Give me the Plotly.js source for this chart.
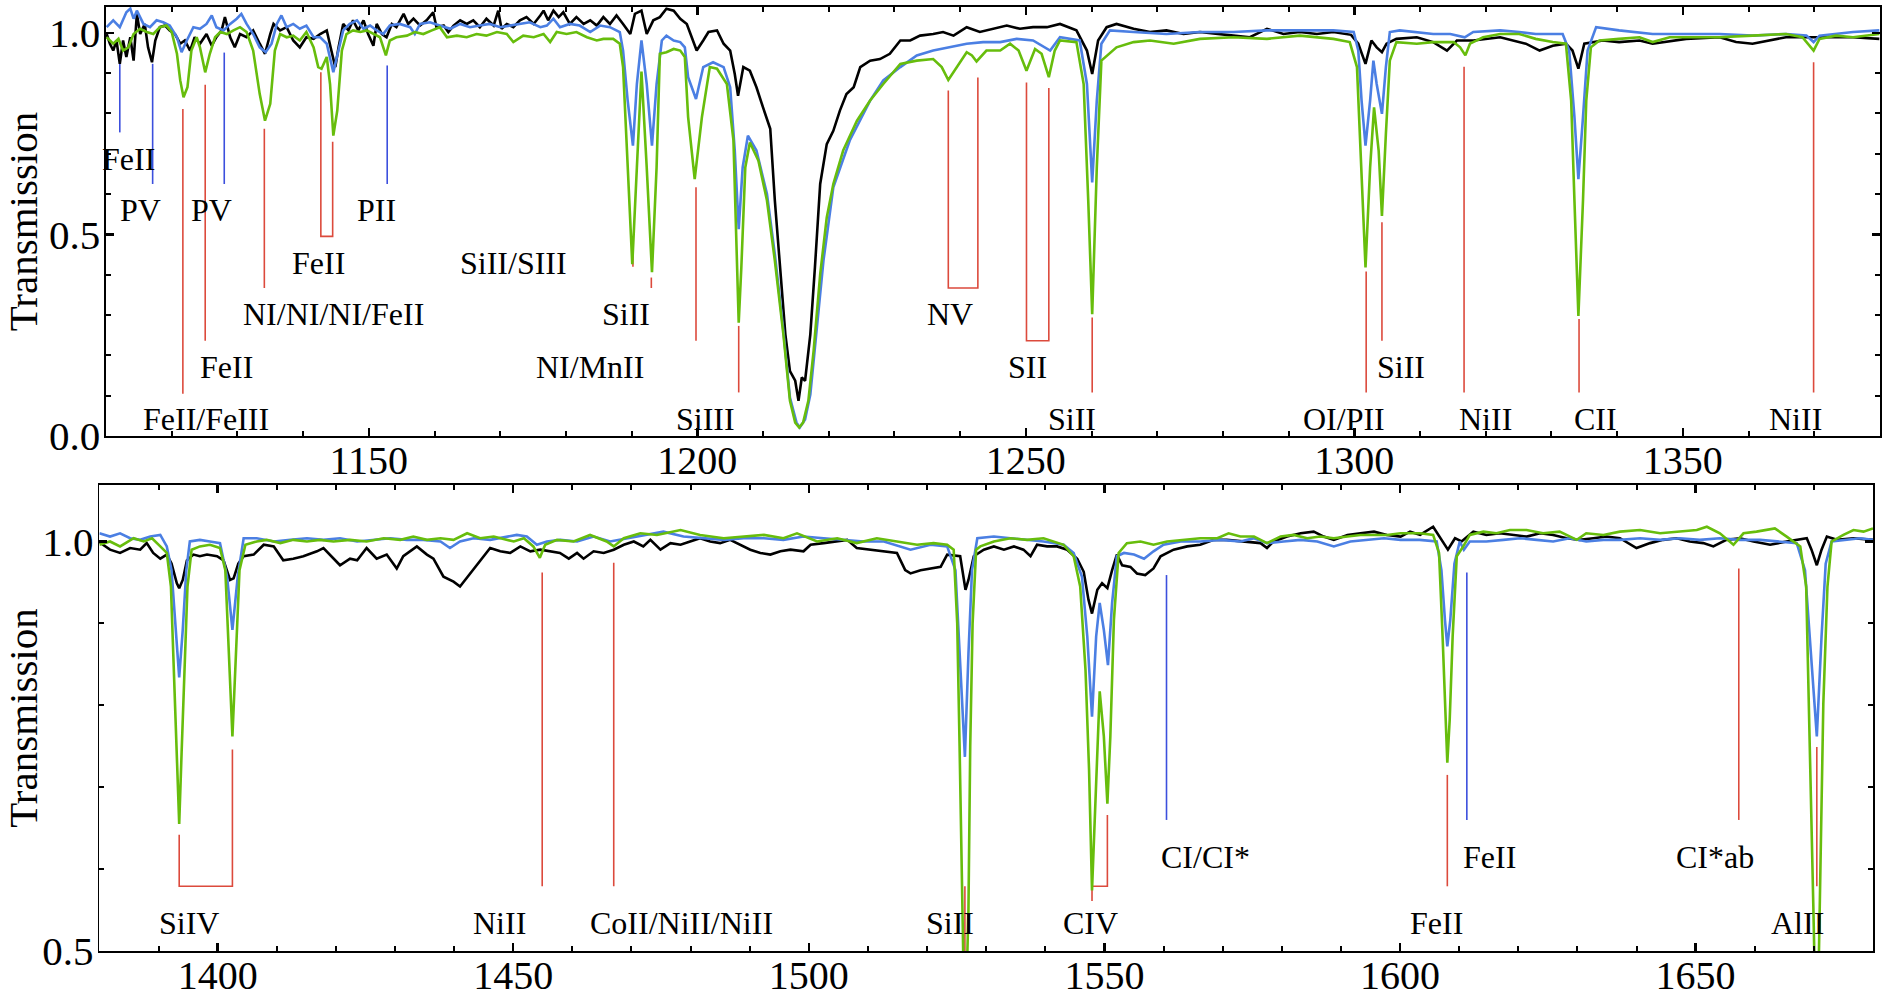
<!DOCTYPE html>
<html><head><meta charset="utf-8">
<script src="https://cdn.plot.ly/plotly-3.0.1.min.js"></script>
<style>html,body{margin:0;padding:0;background:#fff}#chart{width:1886px;height:1002px}</style>
</head><body><div id="chart"></div>
<script>
// ---------- TOP PANEL DATA (wavelength, transmission) ----------
const topBlackX = [1110.1,1110.6,1111.1,1111.6,1112.1,1112.6,1113.1,1113.7,1114.2,1114.7,1115.2,1115.9,1116.4,1117.0,1117.5,1118.2,1119.0,1119.7,1120.5,1121.3,1122.0,1122.8,1123.5,1124.3,1125.3,1126.1,1126.8,1127.6,1128.1,1128.9,1129.6,1130.4,1131.4,1132.4,1133.4,1134.2,1135.0,1135.5,1136.5,1137.5,1138.5,1139.5,1140.5,1141.6,1142.6,1143.6,1144.3,1144.9,1145.4,1146.1,1146.9,1147.6,1148.4,1149.2,1149.9,1150.7,1151.2,1152.0,1152.7,1153.5,1154.2,
1155.3,1156.0,1156.8,1157.8,1158.8,1159.8,1160.3,1161.4,1162.1,1162.9,1163.9,1164.9,1165.9,1166.9,1167.9,1169.0,1169.7,1170.2,1171.0,1172.0,1173.0,1174.0,1175.1,1176.1,1176.6,1177.3,1178.1,1178.9,1179.6,1180.6,1181.6,1182.7,1183.7,1184.7,1185.7,1186.7,1187.7,1188.7,1189.8,1190.5,1191.5,1192.3,1193.3,1194.3,1195.3,1196.4,1197.4,1198.4,
1199.9,1200.9,1201.7,1203.0,1204.0,1205.0,1205.7,1206.2,1207.0,1208.0,1209.0,1210.0,1211.1,1211.8,1212.6,1213.4,1214.1,1214.9,1215.4,1215.9,1216.4,1217.2,1217.9,1218.7,1219.7,1220.7,1221.7,1222.7,1223.8,1224.8,1226.3,1227.8,1229.3,1230.9,
1232.4,1233.9,1235.9,1237.4,1239.0,1241.0,1243.0,1245.1,1247.1,1249.1,1251.1,1253.2,1255.2,1257.7,1259.3,1260.1,1261.0,1262.3,1263.8,1266.4,1268.9,1271.4,1274.0,1276.5,1279.0,1281.6,1284.1,1286.7,1289.2,1291.7,1294.3,1296.8,
1299.5,1300.6,1301.7,1302.6,1303.4,1304.2,1304.9,1306.4,1309.5,1312.0,1314.1,1315.6,1318.1,1320.1,1322.2,
1326.1,1328.2,1330.2,1332.2,1333.2,1334.1,1335.0,1337.8,1340.3,1343.4,1345.4,1350.5,1355.6,1358.1,1360.6,1365.7,1370.8,1375.9,1379.9];
const topBlackY = [0.997,0.973,0.956,0.981,0.923,0.981,0.940,0.989,0.931,1.047,0.997,1.022,0.964,0.927,0.981,1.014,1.018,1.006,0.997,0.973,0.981,0.956,0.989,0.973,0.997,0.968,0.989,1.006,1.039,0.989,0.964,0.997,0.989,1.006,0.973,0.948,0.997,1.022,1.006,1.014,0.981,0.964,0.989,0.985,0.997,1.006,0.956,0.915,0.964,1.022,1.006,1.031,1.006,1.031,0.997,0.968,1.022,0.997,0.989,1.022,1.014,
1.047,1.022,1.035,1.018,1.031,1.051,1.014,1.018,1.002,1.018,1.031,1.022,1.031,1.014,1.035,1.018,1.055,1.010,1.022,1.014,1.031,1.039,1.022,1.043,1.055,1.031,1.055,1.039,1.051,1.022,1.039,1.022,1.031,1.018,1.039,1.022,1.043,1.022,0.997,1.047,1.055,0.997,1.031,1.039,1.060,1.055,1.035,1.022,
0.956,0.981,1.002,1.006,0.973,0.956,0.898,0.844,0.915,0.906,0.865,0.815,0.762,0.584,0.418,0.252,0.161,0.137,0.087,0.145,0.137,0.252,0.418,0.625,0.724,0.757,0.807,0.848,0.865,0.915,0.931,0.935,0.948,0.981,
0.981,0.993,0.997,1.002,0.993,1.014,1.002,1.010,1.018,1.010,1.014,1.014,1.022,1.006,0.956,0.898,0.981,1.014,1.022,1.010,1.002,1.006,0.997,1.002,0.997,0.993,0.989,1.010,0.997,1.002,0.997,1.002,
0.995,0.973,0.923,0.981,0.964,0.952,0.973,0.985,0.989,0.977,0.956,0.981,0.981,0.985,0.989,
0.973,0.956,0.968,0.973,0.956,0.911,0.973,0.981,0.977,0.981,0.973,0.985,0.989,0.977,0.973,0.989,0.989,0.989,0.985];

const topBlueX = [1110.1,1111.1,1112.1,1113.1,1113.7,1114.2,1114.7,1115.7,1116.7,1117.7,1118.7,1119.7,1120.8,1121.5,1122.3,1123.3,1124.3,1125.3,1126.1,1126.8,1127.9,1128.9,1129.9,1130.6,1131.4,1132.4,1133.4,1134.3,1135.2,1136.0,1136.7,1137.5,1138.5,1139.5,1140.5,1141.6,1142.6,1143.6,1144.6,1145.4,1146.1,1147.1,1148.2,1149.2,1150.2,1151.2,1152.2,1153.2,1154.7,
1156.3,1157.0,1157.8,1159.3,1160.8,1162.4,1163.9,1165.4,1166.9,1168.4,1170.0,1171.5,1173.0,1174.5,1176.1,1177.1,1178.1,1179.1,1180.6,1182.1,1183.7,1185.2,1186.7,1188.2,1188.7,1189.4,1190.2,1190.8,1191.5,1192.3,1193.1,1193.8,1194.6,1195.3,1196.4,1197.4,1198.1,
1198.6,1199.8,1200.9,1202.4,1204.0,1205.0,1205.7,1206.3,1206.9,1207.7,1209.0,1210.6,1211.8,1213.1,1214.1,1215.1,1215.6,1216.4,1217.2,1217.9,1219.2,1220.7,1223.2,1226.3,1228.3,1230.9,
1233.4,1235.9,1238.5,1241.0,1243.5,1246.1,1248.6,1251.1,1253.7,1255.2,1258.2,1259.3,1260.1,1260.8,1261.5,1262.8,1266.4,1271.4,1276.5,1281.6,1286.7,1291.7,1296.8,
1299.9,1300.6,1301.1,1301.7,1302.4,1302.9,1303.4,1304.2,1304.8,1305.4,1306.9,1309.5,1312.0,1314.6,1316.8,1318.1,1322.2,
1325.1,1327.6,1331.7,1332.7,1333.5,1334.1,1334.8,1335.5,1336.8,1340.3,1345.4,1350.5,1355.6,1360.6,1365.7,1368.8,1369.9,1370.8,1375.9,1379.9];
const topBlueY = [1.014,1.031,1.014,1.051,1.060,1.035,1.055,1.022,1.014,1.031,1.026,1.018,0.989,0.952,0.981,1.014,1.010,1.022,1.043,1.014,1.006,1.022,1.035,1.047,1.022,0.997,0.964,0.952,0.973,1.022,1.043,1.014,1.022,1.010,1.018,0.989,0.989,0.973,0.902,0.956,1.006,1.022,1.031,1.010,1.018,1.006,0.997,1.018,1.022,
1.014,0.997,1.022,1.026,1.018,1.010,1.022,1.014,1.018,1.022,1.014,1.018,1.022,1.026,1.014,1.018,1.035,1.014,1.022,1.018,1.002,1.018,1.014,1.002,0.956,0.832,0.720,0.873,0.981,0.873,0.720,0.873,0.981,0.993,0.981,0.977,0.964,
0.890,0.836,0.915,0.927,0.915,0.865,0.708,0.513,0.666,0.745,0.708,0.600,0.451,0.261,0.095,0.033,0.021,0.041,0.103,0.219,0.435,0.617,0.733,0.832,0.882,0.915,
0.944,0.956,0.964,0.973,0.977,0.977,0.985,0.981,0.956,0.989,0.981,0.873,0.629,0.832,0.973,1.006,1.002,0.997,1.002,1.002,1.006,1.006,1.006,
1.002,0.956,0.832,0.720,0.832,0.931,0.873,0.799,0.915,1.002,1.006,1.002,0.997,0.997,0.989,1.002,1.006,
1.002,0.997,0.997,0.956,0.791,0.637,0.791,0.956,1.014,1.006,0.997,0.997,0.997,0.993,0.997,0.993,0.977,0.993,1.002,1.006];

const topGreenX = [1110.1,1111.1,1111.9,1112.6,1113.4,1114.2,1115.2,1116.2,1117.2,1118.2,1119.2,1120.0,1120.8,1121.3,1121.8,1122.4,1123.0,1123.8,1124.3,1125.1,1125.8,1126.6,1127.4,1128.4,1129.4,1130.4,1131.4,1132.4,1133.4,1134.2,1135.0,1135.7,1136.5,1137.5,1138.5,1139.5,1140.5,1141.6,1142.3,1142.8,1143.6,1144.1,1144.6,1145.2,1145.9,1146.6,1147.6,1148.7,1149.7,1150.7,1151.7,1152.6,1153.2,1154.2,
1155.8,1157.0,1158.3,1159.6,1160.8,1161.9,1163.4,1164.9,1166.4,1167.9,1169.5,1171.0,1172.0,1173.5,1175.1,1176.6,1177.6,1178.6,1180.1,1181.6,1183.2,1184.7,1185.7,1187.2,1188.2,1188.7,1189.4,1190.1,1190.8,1191.5,1192.3,1193.1,1193.8,1194.3,1195.3,1196.4,1197.4,1198.1,
1198.6,1199.6,1200.7,1201.9,1203.0,1204.5,1205.5,1206.0,1206.3,1206.7,1207.3,1208.0,1209.3,1210.6,1211.8,1213.1,1214.1,1214.9,1215.5,1216.1,1216.9,1217.7,1218.7,1219.7,1220.7,1222.2,1224.3,1226.3,1228.3,
1230.9,1233.4,1235.9,1237.2,1238.2,1239.5,1241.0,1241.8,1242.5,1244.0,1246.1,1247.6,1248.9,1250.1,1251.4,1252.4,1253.5,1254.4,1255.2,1257.7,1258.8,1259.5,1260.1,1260.8,1261.5,1263.8,1266.4,1268.9,1272.5,1276.5,1281.6,1286.7,1291.7,1296.8,
1299.3,1300.4,1301.1,1301.7,1302.4,1303.0,1303.7,1304.2,1304.8,1305.4,1306.4,1309.5,1312.0,1315.1,1316.1,1316.9,1317.6,1319.6,1322.2,
1325.1,1327.6,1330.2,1332.2,1333.0,1333.5,1334.1,1334.8,1335.3,1336.0,1337.3,1340.3,1343.4,1345.4,1348.0,1350.5,1355.6,1360.6,1365.7,1368.2,1369.9,1370.8,1373.3,1375.9,1379.9];
const topGreenY = [0.989,0.973,0.985,0.956,0.964,0.997,1.010,1.002,0.997,1.014,1.018,1.002,0.948,0.882,0.840,0.865,0.956,0.989,0.964,0.902,0.948,0.989,1.002,0.997,1.006,1.014,1.002,0.956,0.848,0.782,0.824,0.956,0.997,0.989,0.993,0.981,1.002,0.964,0.915,0.911,0.940,0.873,0.745,0.807,0.956,0.997,1.006,1.002,1.006,0.997,0.989,0.944,0.981,0.989,
0.993,1.002,0.997,1.006,1.014,0.989,0.993,0.989,0.997,0.993,1.002,0.997,0.977,0.993,0.989,0.997,0.977,1.002,0.997,1.002,0.989,0.981,0.985,0.985,0.973,0.915,0.666,0.426,0.666,0.904,0.666,0.406,0.666,0.948,0.952,0.960,0.956,0.940,
0.791,0.637,0.791,0.915,0.911,0.873,0.733,0.418,0.281,0.418,0.666,0.728,0.683,0.584,0.435,0.252,0.087,0.033,0.021,0.033,0.087,0.211,0.401,0.542,0.625,0.708,0.782,0.832,0.873,
0.923,0.931,0.935,0.915,0.883,0.915,0.952,0.944,0.929,0.956,0.956,0.973,0.956,0.906,0.960,0.948,0.890,0.956,0.981,0.977,0.873,0.584,0.302,0.666,0.931,0.964,0.977,0.981,0.973,0.985,0.989,0.985,0.993,0.985,
0.977,0.915,0.666,0.418,0.666,0.815,0.708,0.546,0.749,0.931,0.977,0.973,0.977,0.977,0.964,0.944,0.973,0.989,0.997,
0.997,0.985,0.977,0.973,0.832,0.584,0.298,0.584,0.832,0.964,0.981,0.985,0.989,0.977,0.989,0.989,0.989,0.993,0.997,0.989,0.956,0.985,0.993,0.989,0.997];

// ---------- BOTTOM PANEL DATA ----------
const botBlackX = [1380.0,1381.8,1383.5,1385.2,1386.9,1388.0,1389.1,1390.3,1391.4,1392.2,1393.1,1393.5,1394.1,1394.8,1395.9,1397.0,1398.2,1399.9,1401.0,1402.1,1402.7,1403.5,1404.4,1406.1,1407.8,1409.5,1411.1,1412.8,1414.5,1416.8,1417.9,1419.6,1420.7,1422.4,1423.6,1425.2,1426.9,1428.6,1430.3,1431.4,1433.7,1435.4,1436.5,1438.2,1439.9,1441.0,1442.7,1444.4,
1446.1,1447.8,1449.5,1451.2,1452.9,1454.6,1456.3,1457.9,1459.4,1460.8,1461.9,1463.6,1465.3,1467.0,1468.7,1470.4,1472.0,1473.2,1474.9,1476.6,1478.3,1480.0,1481.6,1483.3,1485.0,1486.7,1488.4,1490.1,1491.8,1493.5,1495.2,1496.9,1499.1,1500.3,1502.5,1504.8,1506.5,1508.1,1510.4,1512.7,1514.9,1516.3,1517.2,1518.9,1520.6,1522.3,1523.4,
1525.6,1526.5,1527.0,1527.9,1529.6,1531.3,1533.0,1534.7,1536.3,1537.5,1538.6,1540.3,1542.0,1543.7,1545.4,1546.5,1547.3,1547.9,1548.8,1549.6,1550.5,1551.3,1552.1,1553.0,1554.4,1555.5,1556.9,1558.3,1559.5,1561.7,1564.0,1566.2,1568.5,1570.7,1573.6,1576.4,
1577.5,1578.6,1580.9,1583.2,1585.4,1587.1,1588.8,1591.1,1593.3,1595.6,1597.8,1600.1,1601.7,1603.4,1605.6,1607.0,1608.1,1609.3,1610.4,1612.4,1614.6,1616.9,1619.1,1621.4,1623.7,1625.9,1628.2,1630.4,1632.7,1634.9,1637.2,1640.0,1642.3,1644.5,1646.8,1649.0,1651.3,1653.0,1655.2,1657.5,1659.8,1662.6,1665.4,1667.6,1668.8,1669.6,1670.5,1671.3,1672.2,1673.9,1676.7,1680.0];
const botBlackY = [0.999,0.990,0.986,0.992,0.990,0.998,0.986,0.979,0.984,0.973,0.949,0.943,0.953,0.977,0.984,0.982,0.984,0.982,0.977,0.953,0.955,0.973,0.982,0.984,0.996,0.994,0.977,0.979,0.982,0.988,0.992,0.979,0.971,0.979,0.977,0.992,0.979,0.984,0.967,0.982,0.994,0.984,0.979,0.957,0.951,0.945,0.961,0.977,
0.992,0.988,0.986,0.994,0.988,0.990,0.988,0.986,0.979,0.986,0.979,0.988,0.986,0.990,0.996,1.000,0.994,1.002,0.990,0.998,0.996,1.000,1.004,1.000,0.998,1.002,0.996,0.990,0.986,0.984,0.988,0.990,0.988,0.996,0.998,1.000,1.002,0.992,0.990,0.988,0.986,0.965,0.961,0.965,0.967,0.969,0.984,
0.982,0.941,0.953,0.982,0.990,0.994,0.990,0.994,0.990,0.982,0.996,0.994,0.994,0.990,0.979,0.963,0.929,0.912,0.941,0.949,0.943,0.965,0.984,0.971,0.969,0.961,0.959,0.967,0.982,0.990,0.994,0.996,1.002,1.002,1.000,0.998,
0.992,1.000,1.006,1.010,1.012,1.006,1.002,1.008,1.010,1.012,1.008,1.006,1.012,1.008,1.018,1.002,0.990,1.004,1.000,1.012,1.008,1.010,1.008,1.006,1.010,1.008,1.004,1.002,1.004,1.006,1.004,0.992,0.998,1.002,1.004,1.000,0.998,0.994,1.002,1.004,1.000,0.996,1.000,1.002,1.004,0.990,0.971,0.990,1.006,1.002,1.004,1.002];

const botBlueX = [1380.0,1381.8,1383.5,1385.2,1386.9,1388.6,1390.3,1391.4,1392.2,1392.9,1393.5,1394.1,1394.7,1395.3,1397.0,1398.7,1400.4,1401.6,1402.5,1403.4,1404.4,1406.6,1409.5,1412.3,1415.1,1417.9,1420.7,1423.6,1426.4,1429.2,1432.0,1434.8,1437.7,1439.3,1441.0,1443.3,1446.1,
1447.8,1450.6,1452.3,1454.0,1455.7,1458.0,1460.8,1463.6,1466.4,1469.2,1472.0,1475.4,1478.8,1482.2,1485.6,1489.0,1492.4,1495.7,1499.1,1502.5,1505.9,1509.3,1512.7,1517.2,1520.6,1523.4,
1524.8,1525.5,1526.4,1527.0,1527.6,1528.5,1531.3,1534.1,1536.9,1539.7,1543.1,1544.8,1546.2,1547.1,1547.9,1548.6,1549.2,1549.9,1550.6,1551.3,1552.1,1553.3,1555.0,1556.7,1558.3,1560.0,1562.9,1566.2,1569.6,1573.0,1575.3,1577.5,1580.3,1583.2,1586.0,1588.8,1591.6,1594.4,1597.3,1600.1,
1603.3,1606.2,1607.0,1607.6,1608.0,1608.5,1609.2,1610.1,1610.8,1611.8,1614.6,1617.5,1620.3,1623.1,1625.9,1628.7,1631.5,1634.4,1637.2,1640.6,1644.0,1647.3,1650.7,1654.1,1657.5,1660.9,1664.3,1667.1,1668.5,1669.3,1670.5,1671.3,1672.0,1673.0,1675.5,1677.8,1680.0];
const botBlueY = [1.010,1.006,1.010,1.004,1.002,1.006,1.008,0.994,0.965,0.892,0.834,0.892,0.965,1.000,1.002,1.000,0.998,0.957,0.892,0.957,1.004,1.004,1.000,1.002,1.004,1.002,1.004,1.000,1.002,1.004,1.002,1.002,1.000,0.992,1.000,1.004,1.002,
1.004,1.008,1.006,0.996,1.000,1.002,1.000,1.006,1.000,1.004,1.008,1.012,1.006,1.004,1.002,1.004,1.004,1.002,1.006,1.004,1.002,1.000,1.000,0.990,0.996,0.994,
0.965,0.863,0.737,0.863,0.965,1.004,1.006,1.004,1.002,1.000,0.996,0.986,0.957,0.884,0.786,0.884,0.925,0.892,0.849,0.925,0.982,0.986,0.984,0.979,0.988,0.996,1.000,1.000,1.002,1.000,1.004,0.998,1.000,1.002,1.000,0.994,1.000,1.002,1.004,1.002,
1.002,1.000,0.965,0.904,0.872,0.904,0.973,1.000,0.990,1.000,1.000,1.002,1.004,1.002,1.000,1.004,1.000,1.002,1.002,1.004,1.002,1.004,1.002,1.004,1.002,1.002,1.000,0.998,0.965,0.884,0.762,0.884,0.973,1.000,1.002,1.004,1.002];

const botGreenX = [1380.0,1381.8,1383.5,1385.8,1387.5,1388.9,1390.3,1391.4,1392.1,1392.6,1393.1,1393.5,1393.9,1394.4,1394.9,1395.6,1397.0,1398.7,1400.4,1401.3,1401.9,1402.5,1403.1,1403.7,1404.7,1406.6,1408.3,1410.6,1412.8,1415.1,1417.3,1419.6,1422.4,1425.2,1428.1,1430.9,1433.1,1435.4,1437.7,1439.9,1442.2,1444.4,1446.7,
1447.8,1450.1,1451.8,1453.4,1454.5,1455.4,1457.4,1460.2,1463.0,1465.8,1467.0,1468.7,1471.5,1474.3,1478.3,1481.6,1485.6,1489.0,1492.4,1495.7,1498.0,1501.4,1504.8,1508.1,1511.5,1514.9,1518.3,1521.1,1523.4,
1524.5,1525.1,1525.5,1525.8,1526.4,1527.0,1527.3,1527.7,1528.3,1529.0,1531.3,1534.1,1536.9,1539.7,1543.1,1544.8,1545.9,1546.8,1547.4,1547.9,1548.5,1549.2,1549.9,1550.5,1551.0,1551.6,1552.4,1553.8,1556.1,1558.3,1560.6,1563.4,1566.2,1569.1,1571.0,1573.0,1575.3,1577.5,1579.8,1582.0,1584.3,1586.5,1588.8,1591.1,1593.3,1595.6,1597.8,1600.1,
1601.1,1603.4,1605.6,1606.6,1607.2,1607.7,1608.0,1608.4,1608.9,1609.6,1610.7,1611.8,1614.1,1616.3,1618.6,1621.4,1624.2,1627.0,1629.9,1631.5,1634.4,1637.2,1640.6,1644.0,1647.3,1650.2,1651.9,1654.1,1656.4,1658.1,1660.3,1663.4,1665.4,1667.7,1668.7,1669.3,1669.9,1670.5,1671.0,1671.6,1672.3,1673.0,1675.0,1676.7,1678.4,1680.0];
const botGreenY = [0.996,1.000,0.994,1.004,1.000,1.004,0.994,0.986,0.945,0.843,0.741,0.655,0.741,0.843,0.945,0.990,0.994,0.996,0.992,0.965,0.863,0.762,0.863,0.965,0.996,1.000,1.002,0.998,1.002,1.000,1.002,1.000,1.002,1.000,1.004,1.002,1.006,1.002,1.004,1.002,1.010,1.004,1.006,
1.004,1.000,1.004,0.994,0.980,0.996,1.002,1.000,1.008,1.000,0.994,1.004,1.010,1.008,1.014,1.008,1.004,1.006,1.008,1.004,1.010,1.000,1.004,0.998,1.004,1.000,0.996,0.998,0.996,
0.990,0.900,0.750,0.550,0.380,0.550,0.750,0.900,0.990,0.994,1.000,1.004,1.002,1.004,0.996,0.982,0.945,0.843,0.721,0.574,0.680,0.817,0.762,0.680,0.762,0.904,0.986,0.998,1.000,0.996,1.000,1.002,1.004,1.004,1.010,1.006,1.006,0.998,1.006,1.008,1.004,1.006,1.004,1.006,1.008,1.008,1.008,1.010,
1.010,1.010,1.008,0.986,0.884,0.782,0.730,0.782,0.884,0.982,0.994,1.008,1.012,1.010,1.014,1.014,1.010,1.012,1.002,1.010,1.008,1.012,1.014,1.010,1.012,1.014,1.018,1.010,0.996,1.010,1.012,1.016,1.006,0.994,0.945,0.762,0.558,0.350,0.558,0.802,0.945,1.000,1.008,1.014,1.012,1.016];

// ---------- LINE IDENTIFICATION MARKERS ----------
// single ticks: wavelength, top y, bottom y, colour key (r = red, b = blue)
const topTickX   = [1121.7,1125.1,1134.1,1190.2,1193.0,1199.8,1206.3,1260.1,1301.8,1304.2,1316.7,1334.2,1369.9,1112.1,1117.1,1128.0,1152.8];
const topTickTop = [0.811,0.871,0.762,0.490,0.393,0.617,0.273,0.294,0.408,0.530,0.916,0.290,0.927,0.935,0.923,0.951,0.919];
const topTickBot = [0.105,0.236,0.367,0.420,0.367,0.236,0.108,0.108,0.108,0.236,0.108,0.108,0.108,0.753,0.625,0.625,0.625];
const topTickCol = ['r','r','r','r','r','r','r','r','r','r','r','r','r','b','b','b','b'];
// doublet brackets: left x, right x, left top y, right top y, base y
const topBrLeft  = [1142.7,1238.2,1250.1];
const topBrRight = [1144.5,1242.7,1253.5];
const topBrLTop  = [0.902,0.857,0.877];
const topBrRTop  = [0.730,0.889,0.863];
const topBrBase  = [0.495,0.367,0.236];

const botTickX   = [1454.9,1467.0,1526.4,1608.0,1657.3,1670.5,1560.5,1611.3];
const botTickTop = [0.962,0.974,0.579,0.715,0.967,0.749,0.959,0.962];
const botTickBot = [0.579,0.579,0.500,0.579,0.660,0.579,0.660,0.660];
const botTickCol = ['r','r','r','r','r','r','b','b'];
const botBrLeft  = [1393.5,1547.9];
const botBrRight = [1402.5,1550.5];
const botBrLTop  = [0.642,0.561];
const botBrRTop  = [0.746,0.666];
const botBrBase  = [0.579,0.579];

// ---------- LABELS ----------
const topLabText = ['FeII','PV','PV','PII','FeII','NI/NI/NI/FeII','FeII','FeII/FeIII','SiII/SIII','SiII','NI/MnII','SiIII','NV','SII','SiII','OI/PII','SiII','NiII','CII','NiII'];
const topLabX    = [1113.5,1115.2,1126.1,1151.2,1142.4,1144.7,1128.4,1125.2,1172.0,1189.2,1183.7,1201.2,1238.5,1250.3,1257.1,1298.5,1307.1,1320.0,1336.7,1367.2];
const topLabY    = [0.688,0.561,0.561,0.561,0.430,0.302,0.170,0.042,0.430,0.302,0.170,0.042,0.302,0.170,0.042,0.042,0.170,0.042,0.042,0.042];

const botLabText = ['SiIV','NiII','CoII/NiII/NiII','SiII','CIV','CI/CI*','FeII','FeII','CI*ab','AlII'];
const botLabX    = [1395.2,1447.7,1478.5,1523.9,1547.7,1567.1,1615.1,1606.1,1653.3,1667.3];
const botLabY    = [0.534,0.534,0.534,0.534,0.534,0.615,0.615,0.534,0.615,0.534];

// ---------- BUILD ----------
const FONT = 'Liberation Serif, Times New Roman, serif';
const COL = {black:'#000000', blue:'#4b7fe3', green:'#67bd0c', r:'#dc4a3c', b:'#3c4fdd'};

function tickTraces(xs, tops, bots, cols, xa, ya) {
  const out = [];
  ['r','b'].forEach(k => {
    const x = [], y = [];
    xs.forEach((v, i) => { if (cols[i] === k) { x.push(v, v, null); y.push(tops[i], bots[i], null); } });
    out.push({x, y, mode:'lines', line:{color:COL[k], width:1.6}, xaxis:xa, yaxis:ya, hoverinfo:'skip', showlegend:false});
  });
  return out;
}
function bracketTrace(L, R, LT, RT, B, xa, ya) {
  const x = [], y = [];
  L.forEach((v, i) => { x.push(L[i], L[i], R[i], R[i], null); y.push(LT[i], B[i], B[i], RT[i], null); });
  return {x, y, mode:'lines', line:{color:COL.r, width:1.6}, xaxis:xa, yaxis:ya, hoverinfo:'skip', showlegend:false};
}
function spec(x, y, c, xa, ya) {
  return {x, y, mode:'lines', line:{color:c, width:2.6}, xaxis:xa, yaxis:ya, hoverinfo:'skip', showlegend:false};
}

const traces = [
  ...tickTraces(topTickX, topTickTop, topTickBot, topTickCol, 'x', 'y'),
  bracketTrace(topBrLeft, topBrRight, topBrLTop, topBrRTop, topBrBase, 'x', 'y'),
  ...tickTraces(botTickX, botTickTop, botTickBot, botTickCol, 'x2', 'y2'),
  bracketTrace(botBrLeft, botBrRight, botBrLTop, botBrRTop, botBrBase, 'x2', 'y2'),
  spec(topBlackX, topBlackY, COL.black, 'x', 'y'),
  spec(topBlueX, topBlueY, COL.blue, 'x', 'y'),
  spec(topGreenX, topGreenY, COL.green, 'x', 'y'),
  spec(botBlackX, botBlackY, COL.black, 'x2', 'y2'),
  spec(botBlueX, botBlueY, COL.blue, 'x2', 'y2'),
  spec(botGreenX, botGreenY, COL.green, 'x2', 'y2')
];

const annotations = [];
topLabText.forEach((t, i) => annotations.push({x:topLabX[i], y:topLabY[i], xref:'x', yref:'y', text:t, showarrow:false, xanchor:'center', yanchor:'middle', font:{family:FONT, size:32, color:'#000'}}));
botLabText.forEach((t, i) => annotations.push({x:botLabX[i], y:botLabY[i], xref:'x2', yref:'y2', text:t, showarrow:false, xanchor:'center', yanchor:'middle', font:{family:FONT, size:32, color:'#000'}}));

function xax(domain, range, anchor) {
  return {domain, range, anchor, tick0:1100, dtick:50, ticks:'inside', ticklen:8, tickwidth:2.5, tickcolor:'#000',
    mirror:'ticks', showline:true, linecolor:'#000', linewidth:1.6, showgrid:false, zeroline:false,
    ticklabelstandoff:-12,
    tickfont:{family:FONT, size:40, color:'#000'},
    minor:{dtick:10, tick0:1100, ticks:'inside', ticklen:5, tickwidth:2, tickcolor:'#000', showgrid:false}};
}
function yax(domain, range, anchor) {
  return {domain, range, anchor, tick0:0, dtick:0.5, tickformat:'.1f', ticks:'inside', ticklen:8, tickwidth:2.5, tickcolor:'#000',
    mirror:'ticks', showline:true, linecolor:'#000', linewidth:1.6, showgrid:false, zeroline:false,
    ticklabelstandoff:-4,
    tickfont:{family:FONT, size:41, color:'#000'},
    title:{text:'Transmission', font:{family:FONT, size:41, color:'#000'}, standoff:2},
    minor:{dtick:0.1, tick0:0, ticks:'inside', ticklen:5, tickwidth:2, tickcolor:'#000', showgrid:false}};
}

const layout = {
  width:1886, height:1002,
  margin:{l:0, r:0, t:0, b:0},
  paper_bgcolor:'#fff', plot_bgcolor:'#fff',
  showlegend:false,
  font:{family:FONT, color:'#000'},
  xaxis: xax([0.0562, 0.9968], [1110, 1380], 'y'),
  yaxis: yax([0.5649, 0.9930], [0, 1.064], 'x'),
  xaxis2: xax([0.0527, 0.9931], [1380, 1680], 'y2'),
  yaxis2: yax([0.0509, 0.5160], [0.5, 1.069], 'x2'),
  annotations
};

Plotly.newPlot('chart', traces, layout, {displayModeBar:false, staticPlot:true});
</script>
</body></html>
